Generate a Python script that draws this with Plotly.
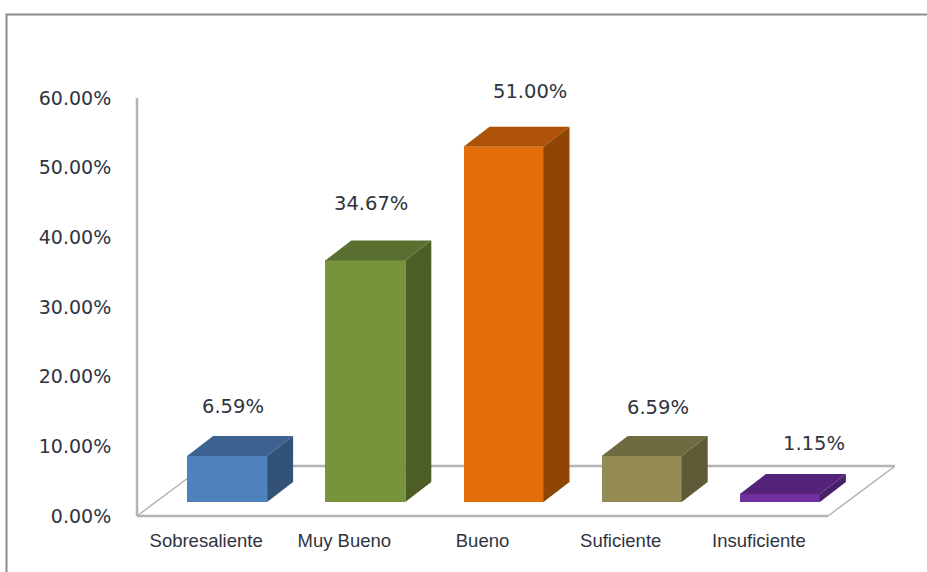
import plotly.graph_objects as go

categories = ['Sobresaliente', 'Muy Bueno', 'Bueno', 'Suficiente', 'Insuficiente']
values = [6.59, 34.67, 51.00, 6.59, 1.15]
y_ticks = [0, 10, 20, 30, 40, 50, 60]

front_colors = ['#4f81bd', '#77933c', '#e46c0a', '#948a54', '#7030a0']
top_colors = ['#3d6291', '#5a7030', '#ad5206', '#706a40', '#55247a']
side_colors = ['#325278', '#4c5e26', '#8f4504', '#5e5a36', '#47206a']

# pixel scale of the plot, used to turn the fake 3d depth into axis units
PX_PER_CAT = 138.2
PX_PER_PCT = 6.967

bar_width = 80 / PX_PER_CAT
bar_shift_x = 21 / PX_PER_CAT
bar_shift_y = 14 / PX_PER_PCT
depth_x = 26 / PX_PER_CAT
depth_y = 20 / PX_PER_PCT
floor_x = 67 / PX_PER_CAT
floor_y = 50 / PX_PER_PCT

# data label offsets from the top of each bar, in pixels
label_dx = [6, 6, 26, 16, 34]
label_dy = [50, 57, 55, 49, 50]

GREY = '#b4b4b4'
TEXT = '#2f3440'

fig = go.Figure()

# front faces
bar_x = [i + bar_shift_x for i in range(len(values))]
fig.add_trace(go.Bar(
    x=bar_x,
    y=values,
    base=bar_shift_y,
    width=bar_width,
    marker=dict(color=front_colors, line=dict(width=0)),
    hoverinfo='skip',
))

# top and side faces
for i, v in enumerate(values):
    x0 = bar_x[i] - bar_width / 2
    x1 = bar_x[i] + bar_width / 2
    y0 = bar_shift_y
    y1 = bar_shift_y + v
    fig.add_trace(go.Scatter(
        x=[x0, x1, x1 + depth_x, x0 + depth_x, x0],
        y=[y1, y1, y1 + depth_y, y1 + depth_y, y1],
        mode='lines', fill='toself', fillcolor=top_colors[i],
        line=dict(width=0), hoverinfo='skip',
    ))
    fig.add_trace(go.Scatter(
        x=[x1, x1 + depth_x, x1 + depth_x, x1, x1],
        y=[y0, y0 + depth_y, y1 + depth_y, y1, y0],
        mode='lines', fill='toself', fillcolor=side_colors[i],
        line=dict(width=0), hoverinfo='skip',
    ))

# floor and value axis lines go under the bars
x_left = -0.5
x_right = len(values) - 0.5
axis_lines = [
    (x_left, 0, x_left, y_ticks[-1], 2.5),
    (x_left, 0, x_right, 0, 2.5),
    (x_left + floor_x, floor_y, x_right + floor_x, floor_y, 2.5),
    (x_left, 0, x_left + floor_x, floor_y, 1.5),
    (x_right, 0, x_right + floor_x, floor_y, 1.5),
]
shapes = [
    dict(type='line', xref='x', yref='y', x0=a, y0=b, x1=c, y1=d, layer='below',
         line=dict(color=GREY, width=w))
    for a, b, c, d, w in axis_lines
]

# plot area is a few px wider than the axes so the lines are not clipped
PAD = 4
W = 758 + PAD
H = 418 + PAD
ML = 137 - PAD
MT = 98
fx0 = (6.5 - ML) / W
fy_top = 1 + (MT - 14.5) / H
shapes.append(dict(
    type='path', xref='paper', yref='paper', layer='below',
    path=f'M {fx0} -1 L {fx0} {fy_top} L 1.1 {fy_top}',
    line=dict(color='#8c8c8c', width=2),
))

annotations = []
for i, v in enumerate(values):
    annotations.append(dict(
        x=bar_x[i], y=bar_shift_y + v, text=f'{v:.2f}%', showarrow=False,
        xshift=label_dx[i], yshift=label_dy[i],
        font=dict(family='DejaVu Sans', size=19.5, color=TEXT),
    ))

fig.update_layout(
    width=927,
    height=572,
    autosize=False,
    margin=dict(l=ML, r=927 - ML - W, t=MT, b=572 - MT - H, pad=0),
    paper_bgcolor='white',
    plot_bgcolor='white',
    showlegend=False,
    shapes=shapes,
    annotations=annotations,
    bargap=0,
    xaxis=dict(
        range=[x_left - PAD / PX_PER_CAT, x_left + 758 / PX_PER_CAT],
        tickvals=list(range(len(categories))),
        ticktext=categories,
        ticks='outside', ticklen=4, tickcolor='rgba(0,0,0,0)',
        showgrid=False, zeroline=False, showline=False,
        tickangle=0,
        tickfont=dict(family='Liberation Sans', size=18.5, color=TEXT),
    ),
    yaxis=dict(
        range=[-PAD / PX_PER_PCT, y_ticks[-1]],
        tickvals=y_ticks,
        ticktext=[f'{t:.2f}%' for t in y_ticks],
        ticks='outside', ticklen=17, tickcolor='rgba(0,0,0,0)',
        showgrid=False, zeroline=False, showline=False,
        tickfont=dict(family='DejaVu Sans', size=19, color=TEXT),
    ),
)

# the page margin would push the figure 8px off
fig.write_html('out.html', config=dict(displayModeBar=False),
               post_script="document.body.style.margin='0';")
